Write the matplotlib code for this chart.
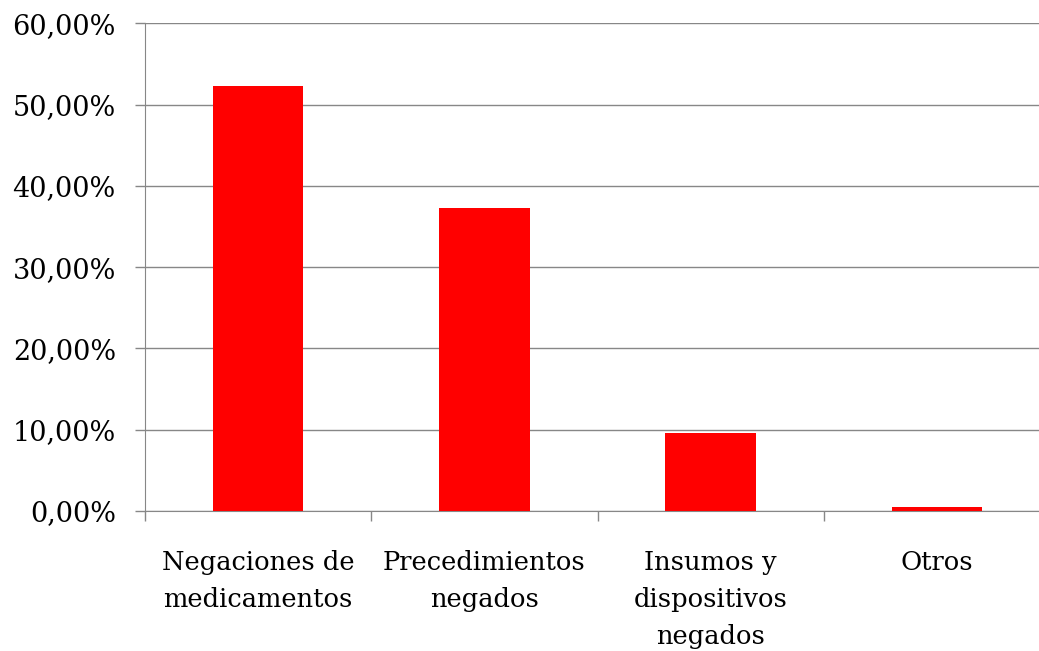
import matplotlib.pyplot as plt
from matplotlib.ticker import FuncFormatter, FixedLocator

# Data
categories = ['Negaciones de\nmedicamentos', 'Precedimientos\nnegados',
              'Insumos y\ndispositivos\nnegados', 'Otros']
values = [52.3, 37.3, 9.6, 0.45]

plt.rcParams['font.family'] = ['DejaVu Serif']

fig = plt.figure(figsize=(10.39, 6.51), dpi=100)
W, H = 1039, 651
ax = fig.add_axes([145 / W, (H - 511) / H, (1050 - 145) / W, (511 - 23.3) / H])

x = range(len(categories))
ax.bar(x, values, width=0.40, color='#ff0000', zorder=3)

ax.set_xlim(-0.5, len(categories) - 0.5)
ax.set_ylim(0, 60)
ax.set_yticks(range(0, 61, 10))
ax.yaxis.set_major_formatter(FuncFormatter(lambda v, p: f'{v:.2f}'.replace('.', ',') + '%'))

# category boundaries get the tick marks, labels sit at bar centres
ax.xaxis.set_major_locator(FixedLocator([-0.5, 0.5, 1.5, 2.5]))
ax.xaxis.set_minor_locator(FixedLocator(list(x)))
ax.set_xticklabels([], minor=False)
ax.set_xticklabels(categories, minor=True, linespacing=1.6)

grey = '#878787'
ax.grid(axis='y', color=grey, linewidth=1.0, zorder=0)
for s in ['top', 'right']:
    ax.spines[s].set_visible(False)
ax.spines['left'].set_color(grey)
ax.spines['bottom'].set_color(grey)

ax.tick_params(axis='y', which='major', length=7, color=grey, width=1.0,
               labelsize=19.5, pad=14)
ax.tick_params(axis='x', which='major', length=7, color=grey, width=1.0)
ax.tick_params(axis='x', which='minor', length=0, labelsize=18.5, pad=28)

fig.savefig('out.png', dpi=100)
